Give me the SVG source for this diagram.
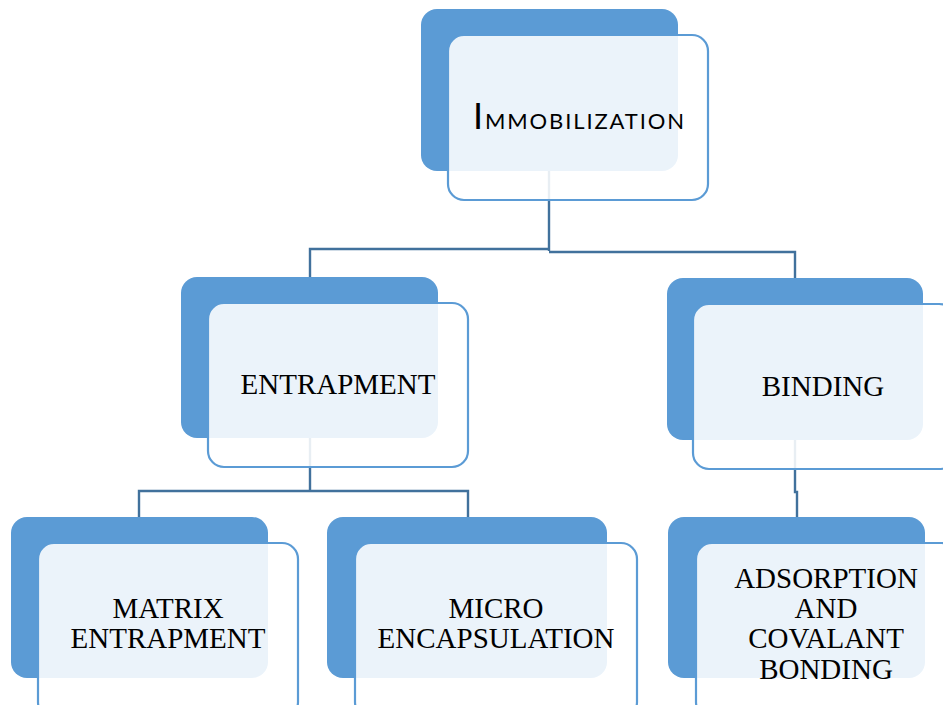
<svg xmlns="http://www.w3.org/2000/svg" width="943" height="705" viewBox="0 0 943 705">
<style>
.back{fill:#5B9BD5;}
.front{fill:#FFFFFF;fill-opacity:0.88;stroke:#5B9BD5;stroke-width:2.2;}
.conn{fill:none;stroke:#41719C;stroke-width:2.4;}
.lbl{font-family:"Liberation Serif","Times New Roman",serif;font-size:29px;fill:#000;text-anchor:middle;}
.cal{font-family:Lato,"Open Sans",sans-serif;fill:#000;}
</style>
<rect width="943" height="705" fill="#FFFFFF"/>
<g id="backs">
<rect class="back" x="421" y="9" width="257" height="162" rx="16"/>
<rect class="back" x="181" y="277" width="257" height="161" rx="16"/>
<rect class="back" x="667" y="278" width="256" height="162" rx="16"/>
<rect class="back" x="11" y="517" width="257" height="161" rx="16"/>
<rect class="back" x="327" y="517" width="280" height="161" rx="16"/>
<rect class="back" x="668" y="517" width="257" height="161" rx="16"/>
</g>
<g id="connectors">
<path class="conn" d="M549,171 V251 M310,277 V249 H549 M549,252 H795 V278"/>
<path class="conn" d="M310,438 V491 M139,517 V491 H468 V517"/>
<path class="conn" d="M795,440 V492 H797 V517"/>
</g>
<g id="immobilization">
<rect class="front" x="448" y="35" width="260" height="165" rx="16"/>
<text class="cal" x="473" y="129" textLength="211" lengthAdjust="spacing"><tspan font-size="36">I</tspan><tspan font-size="22">MMOBILIZATION</tspan></text>
</g>
<g id="entrapment">
<rect class="front" x="208" y="303" width="260" height="164" rx="16"/>
<text class="lbl" x="338" y="394">ENTRAPMENT</text>
</g>
<g id="binding">
<rect class="front" x="693" y="304" width="262" height="165" rx="16"/>
<text class="lbl" x="823" y="396">BINDING</text>
</g>
<g id="matrix-entrapment">
<rect class="front" x="38" y="543" width="260" height="175" rx="16"/>
<text class="lbl" x="168" y="618">MATRIX</text>
<text class="lbl" x="168" y="648">ENTRAPMENT</text>
</g>
<g id="micro-encapsulation">
<rect class="front" x="355" y="543" width="282" height="175" rx="16"/>
<text class="lbl" x="496" y="618">MICRO</text>
<text class="lbl" x="496" y="648">ENCAPSULATION</text>
</g>
<g id="adsorption-covalant-bonding">
<rect class="front" x="696" y="543" width="262" height="175" rx="16"/>
<text class="lbl" x="826" y="588">ADSORPTION</text>
<text class="lbl" x="826" y="618">AND</text>
<text class="lbl" x="826" y="648">COVALANT</text>
<text class="lbl" x="826" y="679">BONDING</text>
</g>
</svg>
